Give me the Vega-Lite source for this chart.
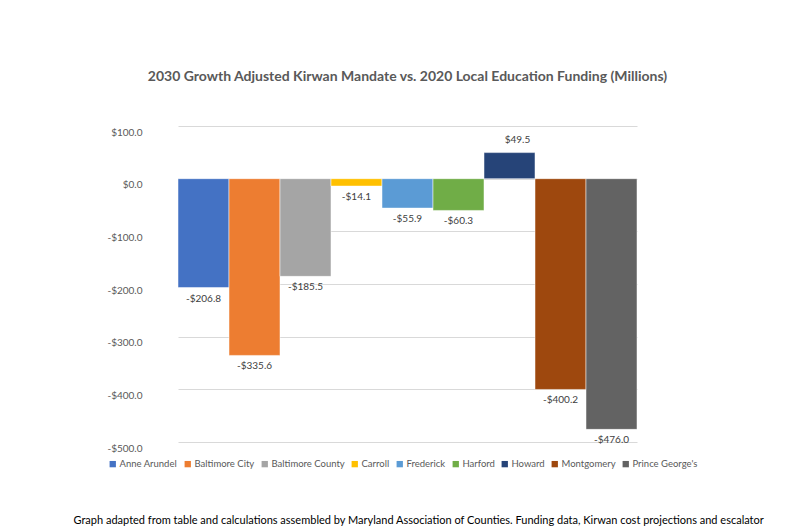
{
  "$schema": "https://vega.github.io/schema/vega-lite/v6.json",
  "autosize": "none",
  "width": 459,
  "height": 316,
  "padding": {"left": 178, "top": 126, "right": 163, "bottom": 90},
  "background": "white",
  "config": {
    "font": "Lato",
    "view": {"stroke": null}
  },
  "title": {
    "text": "2030 Growth Adjusted Kirwan Mandate vs. 2020 Local Education Funding (Millions)",
    "fontSize": 14,
    "fontWeight": "bold",
    "color": "#595959",
    "anchor": "middle",
    "dx": 0,
    "offset": 42
  },
  "data": {
    "values": [
      {"county": "Anne Arundel", "value": -206.8},
      {"county": "Baltimore City", "value": -335.6},
      {"county": "Baltimore County", "value": -185.5},
      {"county": "Carroll", "value": -14.1},
      {"county": "Frederick", "value": -55.9},
      {"county": "Harford", "value": -60.3},
      {"county": "Howard", "value": 49.5},
      {"county": "Montgomery", "value": -400.2},
      {"county": "Prince George's", "value": -476.0}
    ]
  },
  "transform": [
    {"calculate": "(datum.value < 0 ? '-' : '') + '$' + format(abs(datum.value), '.1f')", "as": "label"}
  ],
  "encoding": {
    "x": {
      "field": "county",
      "type": "nominal",
      "sort": null,
      "scale": {"paddingInner": 0, "paddingOuter": 0},
      "axis": {
        "labels": false,
        "ticks": false,
        "domain": false,
        "title": "Graph adapted from table and calculations assembled by Maryland Association of Counties. Funding data, Kirwan cost projections and escalator",
        "titleFontSize": 11,
        "titleFontWeight": "normal",
        "titleColor": "#000000",
        "titleAnchor": "start",
        "titleAlign": "left",
        "titleX": -105,
        "titleY": 78,
        "titleBaseline": "middle"
      }
    },
    "y": {
      "field": "value",
      "type": "quantitative",
      "scale": {"domain": [-500, 100], "nice": false},
      "axis": {
        "title": null,
        "values": [-500, -400, -300, -200, -100, 0, 100],
        "labelExpr": "(datum.value < 0 ? '-' : '') + '$' + format(abs(datum.value), '.1f')",
        "labelPadding": 36,
        "labelOffset": 6,
        "labelFontSize": 10,
        "labelColor": "#595959",
        "ticks": false,
        "domain": false,
        "gridColor": "#D9D9D9",
        "gridWidth": 1
      }
    }
  },
  "layer": [
    {
      "mark": {"type": "bar", "stroke": "white", "strokeWidth": 0.5},
      "encoding": {
        "color": {
          "field": "county",
          "type": "nominal",
          "sort": null,
          "scale": {
            "domain": ["Anne Arundel", "Baltimore City", "Baltimore County", "Carroll", "Frederick", "Harford", "Howard", "Montgomery", "Prince George's"],
            "range": ["#4472C4", "#ED7D31", "#A5A5A5", "#FFC000", "#5B9BD5", "#70AD47", "#264478", "#9E480E", "#636363"]
          },
          "legend": {
            "title": null,
            "orient": "none",
            "direction": "horizontal",
            "columns": 9,
            "legendX": -70,
            "legendY": 333,
            "symbolType": "square",
            "symbolSize": 40,
            "symbolStrokeWidth": 0,
            "labelFontSize": 9.5,
            "labelColor": "#595959",
            "columnPadding": 5,
            "labelOffset": 2
          }
        },
        "y2": {"datum": 0}
      }
    },
    {
      "transform": [{"filter": "datum.value < 0"}],
      "mark": {"type": "text", "baseline": "top", "dy": 6, "fontSize": 10, "color": "#404040"},
      "encoding": {
        "text": {"field": "label", "type": "nominal"}
      }
    },
    {
      "transform": [{"filter": "datum.value >= 0"}],
      "mark": {"type": "text", "baseline": "bottom", "dy": -8, "dx": 8, "fontSize": 10, "color": "#404040"},
      "encoding": {
        "text": {"field": "label", "type": "nominal"}
      }
    }
  ]
}
